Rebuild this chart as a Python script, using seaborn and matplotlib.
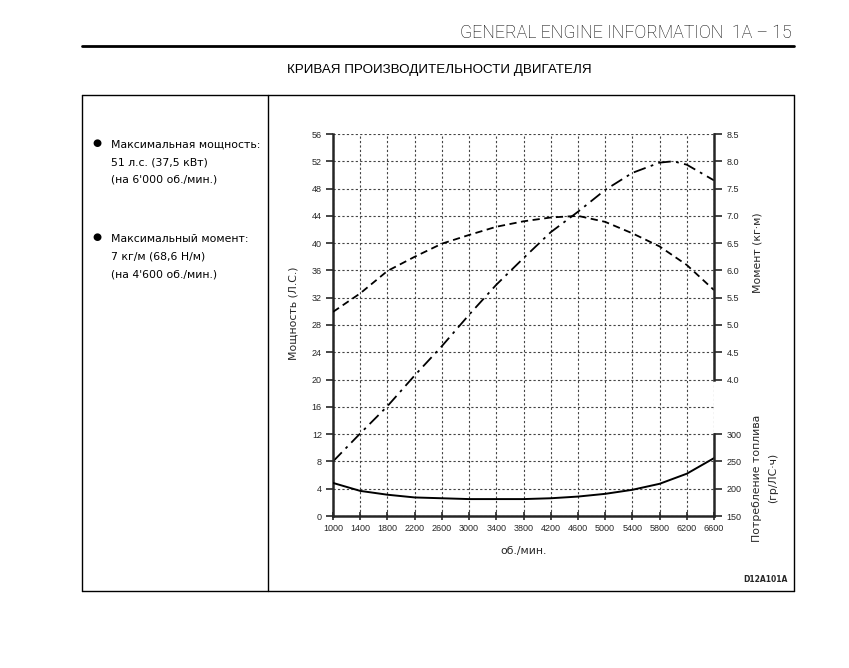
import seaborn as sns
import matplotlib.pyplot as plt
from matplotlib.lines import Line2D
import numpy as np

sns.set_style("white")
plt.rcParams["font.family"] = ["DejaVu Sans"]

# ---- data ----
rpm = [1000, 1400, 1800, 2200, 2600, 3000, 3400, 3800,
       4200, 4600, 5000, 5400, 5800, 6200, 6600]
# power (hp), with one extra reading at the peak (6000 rpm)
power_rpm = [1000, 1400, 1800, 2200, 2600, 3000, 3400, 3800,
             4200, 4600, 5000, 5400, 5800, 6000, 6200, 6600]
power_hp = [8.0, 12.1, 16.1, 20.6, 24.9, 29.5, 33.9, 37.8,
            41.6, 44.6, 47.8, 50.3, 51.8, 52.0, 51.5, 49.2]
torque_kgm = [5.24, 5.58, 5.99, 6.25, 6.49, 6.65, 6.80, 6.90,
              6.97, 7.00, 6.89, 6.68, 6.44, 6.10, 5.64]
fuel_g = [210.6, 196.0, 189.0, 184.0, 182.5, 181.0, 181.0, 181.0,
          182.5, 185.6, 190.6, 198.0, 209.0, 227.5, 256.0]

x_ticks = [1000, 1400, 1800, 2200, 2600, 3000, 3400, 3800,
           4200, 4600, 5000, 5400, 5800, 6200, 6600]
power_ticks = [0, 4, 8, 12, 16, 20, 24, 28, 32, 36, 40, 44, 48, 52, 56]
torque_ticks = [4.0, 4.5, 5.0, 5.5, 6.0, 6.5, 7.0, 7.5, 8.0, 8.5]
fuel_ticks = [150, 200, 250, 300]

notes_power = ["Максимальная мощность:", "51 л.с. (37,5 кВт)", "(на 6'000 об./мин.)"]
notes_torque = ["Максимальный момент:", "7 кг/м (68,6 Н/м)", "(на 4'600 об./мин.)"]

W, H = 849, 668
def fx(x):
    return x / W
def fy(y):
    return 1 - y / H

fig = plt.figure(figsize=(W / 100, H / 100), dpi=100)

# header, rule, title
fig.text(fx(792), fy(33), "GENERAL ENGINE INFORMATION  1A – 15", ha="right", va="center",
         fontsize=12.8, family=["Roboto", "DejaVu Sans"], fontweight="light", color="black")
fig.add_artist(Line2D([fx(82), fx(794)], [fy(46), fy(46)], color="black", lw=2))
fig.text(fx(439), fy(70), "КРИВАЯ ПРОИЗВОДИТЕЛЬНОСТИ ДВИГАТЕЛЯ", ha="center", va="center",
         fontsize=9.6, family=["Liberation Sans Narrow", "Liberation Sans"], color="black")

# frame
for xs, ys in [([82, 794], [95, 95]), ([82, 794], [591, 591]), ([82, 82], [95, 591]),
               ([794, 794], [95, 591]), ([268, 268], [95, 591])]:
    fig.add_artist(Line2D([fx(v) for v in xs], [fy(v) for v in ys], color="black", lw=1))

# left notes
for y0, lines in [(145, notes_power), (239, notes_torque)]:
    fig.text(fx(97), fy(y0 - 2), "●", ha="center", va="center", fontsize=7.5, color="black")
    for i, s in enumerate(lines):
        fig.text(fx(111), fy(y0 + i * 17.5), s, ha="left", va="center", fontsize=7.8,
                 color="black")

# ---- chart ----
ax = fig.add_axes([fx(333), fy(516), (714 - 333) / W, (516 - 134) / H])
ax_t = ax.twinx()
ax_f = ax.twinx()

sns.lineplot(x=power_rpm, y=power_hp, ax=ax, color="black", lw=1.3,
             linestyle=(0, (7, 3, 1.5, 3)))
sns.lineplot(x=rpm, y=torque_kgm, ax=ax_t, color="black", lw=1.3,
             linestyle=(0, (4, 2.5)))
sns.lineplot(x=rpm, y=fuel_g, ax=ax_f, color="black", lw=1.4)

ax.set_xlim(1000, 6600)
ax.set_ylim(0, 56)
ax_t.set_ylim(1.5, 8.5)
ax_f.set_ylim(150, 850)

ax.set_xticks(x_ticks)
ax.set_xticklabels([str(v) for v in x_ticks], fontsize=6.5, family="Liberation Sans")
ax.set_yticks(power_ticks)
ax.set_yticklabels([str(v) for v in power_ticks], fontsize=6.5, family="Liberation Sans")
ax_t.set_yticks(torque_ticks)
ax_t.set_yticklabels([f"{v:.1f}" for v in torque_ticks], fontsize=6.5, family="Liberation Sans")
ax_f.set_yticks(fuel_ticks)
ax_f.set_yticklabels([str(v) for v in fuel_ticks], fontsize=6.5, family="Liberation Sans")

ax.grid(True, color="#444444", lw=0.8, linestyle=(0, (2, 2)))
ax.tick_params(axis="y", direction="out", length=5, width=1.2, pad=3, left=True)
ax.tick_params(axis="x", direction="inout", length=6, width=1.2, pad=3, bottom=True)
for a in (ax_t, ax_f):
    a.tick_params(axis="y", direction="out", length=6, width=1.2, pad=3, right=True)
    for side in ("left", "top", "bottom"):
        a.spines[side].set_visible(False)
    a.spines["right"].set_linewidth(1.8)
    a.set_ylabel("")

ax.spines["top"].set_visible(False)
ax.spines["right"].set_visible(False)
ax.spines["left"].set_linewidth(1.8)
ax.spines["bottom"].set_linewidth(1.8)
ax_t.spines["right"].set_bounds(4.0, 8.5)
ax_f.spines["right"].set_bounds(150, 300)
ax.set_xlabel("")
ax.set_ylabel("")

fig.text(fx(293), fy(313), "Мощность (Л.С.)", rotation=90, ha="center", va="center", fontsize=7.8)
fig.text(fx(524), fy(551), "об./мин.", ha="center", va="center", fontsize=7.8)
fig.text(fx(757), fy(253), "Момент (кг·м)", rotation=90, ha="center", va="center", fontsize=7.8)
fig.text(fx(757), fy(478), "Потребление топлива", rotation=90, ha="center", va="center", fontsize=7.8)
fig.text(fx(773), fy(478), "(гр/ЛС·ч)", rotation=90, ha="center", va="center", fontsize=7.8)
fig.text(fx(788), fy(580), "D12A101A", ha="right", va="center", fontsize=5.5, fontweight="bold")

fig.savefig("out.png", dpi=100)
